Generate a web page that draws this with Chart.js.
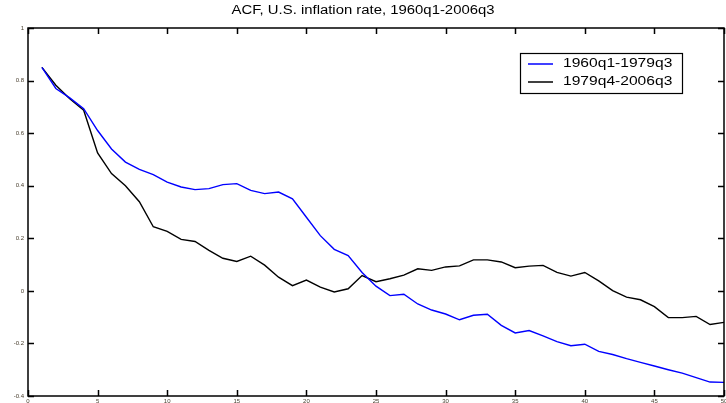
<!DOCTYPE html>
<html>
<head>
<meta charset="utf-8">
<script src="https://cdn.jsdelivr.net/npm/chart.js@4"></script>
<style>
html,body{margin:0;padding:0;background:#fff;}
#wrap{width:726px;height:403px;position:relative;}
</style>
</head>
<body>
<div id="wrap"><canvas id="c" width="726" height="403"></canvas></div>
<script>
const titleText = "ACF, U.S. inflation rate, 1960q1-2006q3";
const lags = [1,2,3,4,5,6,7,8,9,10,11,12,13,14,15,16,17,18,19,20,21,22,23,24,25,26,27,28,29,30,31,32,33,34,35,36,37,38,39,40,41,42,43,44,45,46,47,48,49,50];
const seriesNames = ["1960q1-1979q3", "1979q4-2006q3"];
const acfEarly = [0.85,0.77,0.734,0.693,0.61,0.54,0.49,0.462,0.442,0.414,0.395,0.385,0.389,0.404,0.408,0.382,0.37,0.376,0.35,0.28,0.21,0.158,0.134,0.07,0.018,-0.018,-0.013,-0.05,-0.073,-0.088,-0.11,-0.093,-0.089,-0.131,-0.16,-0.151,-0.171,-0.193,-0.209,-0.203,-0.23,-0.242,-0.258,-0.272,-0.286,-0.3,-0.313,-0.33,-0.347,-0.348];
const acfLate = [0.85,0.782,0.731,0.687,0.525,0.446,0.40,0.339,0.244,0.226,0.196,0.188,0.154,0.124,0.112,0.132,0.098,0.052,0.02,0.041,0.014,-0.004,0.008,0.058,0.035,0.046,0.06,0.084,0.078,0.091,0.095,0.118,0.118,0.11,0.088,0.094,0.097,0.07,0.056,0.07,0.038,0.001,-0.024,-0.034,-0.06,-0.102,-0.102,-0.097,-0.128,-0.12];
const xTicks = [0,5,10,15,20,25,30,35,40,45,50];
const yTicks = [-0.4,-0.2,0,0.2,0.4,0.6,0.8,1];
const seriesColors = ["#0000ff", "#000000"];

const framePlugin = {
  id: 'frame',
  afterDatasetsDraw(chart) {
    const ctx = chart.ctx;
    const a = chart.chartArea;
    const xs = chart.scales.x, ys = chart.scales.y;
    ctx.save();
    ctx.strokeStyle = '#000';
    ctx.lineWidth = 1.5;
    ctx.strokeRect(a.left, a.top, a.right - a.left, a.bottom - a.top);
    const tl = 6;
    ctx.beginPath();
    xTicks.forEach(v => {
      const px = Math.round(xs.getPixelForValue(v)) + 0.5;
      ctx.moveTo(px, a.bottom); ctx.lineTo(px, a.bottom - tl);
      ctx.moveTo(px, a.top); ctx.lineTo(px, a.top + tl);
    });
    yTicks.forEach(v => {
      const py = Math.round(ys.getPixelForValue(v)) + 0.5;
      ctx.moveTo(a.left, py); ctx.lineTo(a.left + tl, py);
      ctx.moveTo(a.right, py); ctx.lineTo(a.right - tl, py);
    });
    ctx.stroke();
    ctx.fillStyle = '#4a4030';
    ctx.font = '6px "Liberation Sans", Arial, sans-serif';
    ctx.textAlign = 'right';
    ctx.textBaseline = 'middle';
    yTicks.forEach(v => {
      const py = ys.getPixelForValue(v);
      ctx.fillText(String(Math.round(v * 10) / 10), a.left - 4, py);
    });
    ctx.textAlign = 'center';
    ctx.textBaseline = 'top';
    xTicks.forEach(v => {
      const px = xs.getPixelForValue(v);
      ctx.fillText(String(v), px, a.bottom + 2);
    });
    // title
    ctx.fillStyle = '#000';
    ctx.font = '12px "Liberation Sans", Arial, sans-serif';
    ctx.textAlign = 'center';
    ctx.textBaseline = 'middle';
    ctx.save();
    ctx.translate(363, 11);
    ctx.scale(1.24, 1);
    ctx.fillText(titleText, 0, 0);
    ctx.restore();
    // legend
    const lx = 520, ly = 53, lw = 162, lh = 40;
    ctx.fillStyle = '#fff';
    ctx.fillRect(lx, ly, lw, lh);
    ctx.strokeStyle = '#000';
    ctx.lineWidth = 1.2;
    ctx.strokeRect(lx + 0.5, ly + 0.5, lw, lh);
    ctx.font = '12px "Liberation Sans", Arial, sans-serif';
    ctx.textAlign = 'left';
    ctx.textBaseline = 'middle';
    chart.data.datasets.forEach((ds, i) => {
      const yy = ly + 11 + i * 18;
      ctx.strokeStyle = ds.borderColor;
      ctx.lineWidth = 1.5;
      ctx.beginPath();
      ctx.moveTo(lx + 8, yy); ctx.lineTo(lx + 33, yy);
      ctx.stroke();
      ctx.fillStyle = '#000';
      ctx.save();
      ctx.translate(lx + 43, yy);
      ctx.scale(1.3, 1);
      ctx.fillText(ds.label, 0, 0);
      ctx.restore();
    });
    ctx.restore();
  }
};

new Chart(document.getElementById('c'), {
  type: 'line',
  data: {
    datasets: seriesNames.map((name, i) => ({
      label: name,
      data: lags.map((l, j) => ({ x: l, y: (i === 0 ? acfEarly : acfLate)[j] })),
      borderColor: seriesColors[i],
      borderWidth: 1.4,
      pointRadius: 0,
      tension: 0,
      fill: false
    }))
  },
  options: {
    responsive: false,
    animation: false,
    events: [],
    layout: { padding: { top: 28, right: 2, left: 0, bottom: 0 } },
    plugins: { legend: { display: false }, title: { display: false }, tooltip: { enabled: false } },
    scales: {
      x: {
        type: 'linear', min: 0, max: 50,
        ticks: { display: false, stepSize: 5 },
        grid: { display: false },
        border: { display: false },
        afterFit(s) { s.height = 7; }
      },
      y: {
        type: 'linear', min: -0.4, max: 1,
        ticks: { display: false, stepSize: 0.2 },
        grid: { display: false },
        border: { display: false },
        afterFit(s) { s.width = 28; }
      }
    }
  },
  plugins: [framePlugin]
});
</script>
</body>
</html>
